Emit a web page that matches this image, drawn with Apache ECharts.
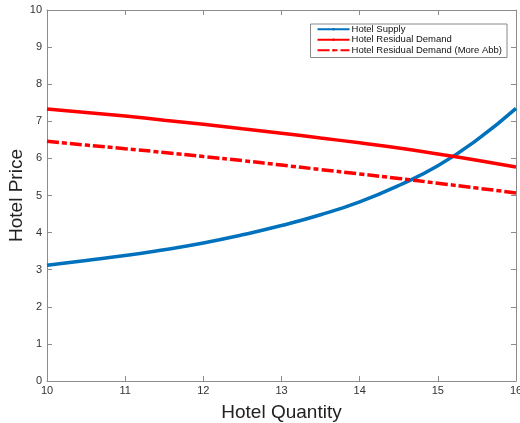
<!DOCTYPE html>
<html><head><meta charset="utf-8">
<script src="https://cdn.jsdelivr.net/npm/echarts@6/dist/echarts.min.js"></script>
<style>html,body{margin:0;padding:0;background:#fff}#c{width:520px;height:423px}</style>
</head><body><div id="c"></div>
<script>
const quantity = [10, 10.5, 11, 11.5, 12, 12.5, 13, 13.5, 14, 14.5, 15, 15.5, 16];
const hotelSupply = [3.12, 3.25, 3.38, 3.54, 3.72, 3.94, 4.19, 4.48, 4.83, 5.27, 5.8, 6.5, 7.35];
const residualDemand = [7.33, 7.24, 7.14, 7.03, 6.92, 6.80, 6.68, 6.55, 6.42, 6.28, 6.12, 5.95, 5.77];
const residualDemandMoreAbb = [6.46, 6.36, 6.26, 6.16, 6.05, 5.94, 5.82, 5.70, 5.58, 5.46, 5.33, 5.20, 5.07];
const seriesNames = ['Hotel Supply', 'Hotel Residual Demand', 'Hotel Residual Demand (More Abb)'];

const pair = arr => quantity.map((q, i) => [q, arr[i]]);
const font = 'Liberation Sans, Arial, Helvetica, sans-serif';
const axisColor = '#8c8c8c';
const chart = echarts.init(document.getElementById('c'));
const baseAxis = {
  axisLine: {show: true, onZero: false, lineStyle: {color: axisColor, width: 1}},
  axisTick: {show: true, inside: true, length: 5, lineStyle: {color: axisColor}},
  splitLine: {show: false}
};
chart.setOption({
  animation: false,
  grid: {left: 47, right: 4, top: 10, bottom: 42, outerBoundsMode: 'none', containLabel: false},
  legend: {
    data: seriesNames, orient: 'vertical', right: 13, top: 24,
    itemWidth: 32, itemHeight: 3, itemGap: 0,
    borderColor: '#888', borderWidth: 1, padding: [0, 5, 2, 6],
    backgroundColor: '#fff',
    textStyle: {fontFamily: font, fontSize: 9.5, lineHeight: 10.5, color: '#111', padding: [0, 0, 0, -3]}
  },
  xAxis: [
    Object.assign({}, baseAxis, {type: 'value', min: 10, max: 16, interval: 1, position: 'bottom',
      name: 'Hotel Quantity', nameLocation: 'middle', nameGap: 22,
      nameTextStyle: {fontFamily: font, fontSize: 19, color: '#222'},
      axisLabel: {fontFamily: font, fontSize: 11, color: '#333', margin: 4}}),
    Object.assign({}, baseAxis, {type: 'value', min: 10, max: 16, interval: 1, position: 'top',
      axisLabel: {show: false}})
  ],
  yAxis: [
    Object.assign({}, baseAxis, {type: 'value', min: 0, max: 10, interval: 1, position: 'left',
      name: 'Hotel Price', nameLocation: 'middle', nameGap: 21, nameMoveOverlap: false,
      nameTextStyle: {fontFamily: font, fontSize: 19, color: '#222'},
      axisLabel: {fontFamily: font, fontSize: 11, color: '#333', margin: 5}}),
    Object.assign({}, baseAxis, {type: 'value', min: 0, max: 10, interval: 1, position: 'right',
      axisLabel: {show: false}})
  ],
  series: [
    {name: seriesNames[0], type: 'line', data: pair(hotelSupply), smooth: true, symbol: 'none',
      lineStyle: {color: '#0072BD', width: 3.5}, itemStyle: {color: '#0072BD'}},
    {name: seriesNames[1], type: 'line', data: pair(residualDemand), smooth: true, symbol: 'none',
      lineStyle: {color: '#FF0000', width: 3.5}, itemStyle: {color: '#FF0000'}},
    {name: seriesNames[2], type: 'line', data: pair(residualDemandMoreAbb), smooth: true, symbol: 'none',
      lineStyle: {color: '#FF0000', width: 3.5, type: [12, 3, 5, 3]}, itemStyle: {color: '#FF0000'}}
  ]
});
</script></body></html>
